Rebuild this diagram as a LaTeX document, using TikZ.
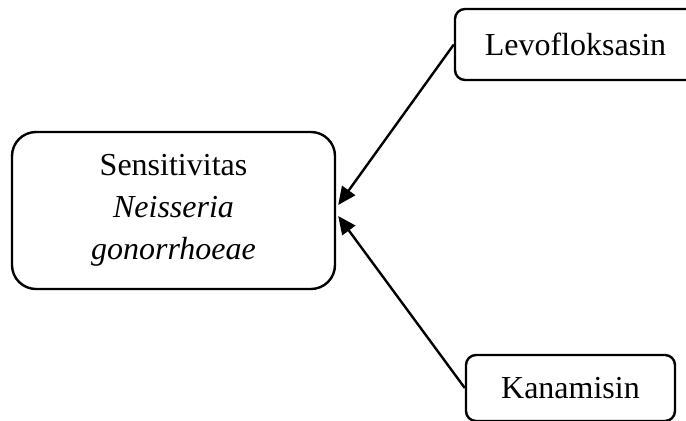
\documentclass[tikz,border=0pt]{standalone}
\usepackage{fontspec}
\setmainfont{Liberation Serif}
\usetikzlibrary{arrows.meta,calc}
\begin{document}
\begin{tikzpicture}[x=0.5pt,y=-0.5pt,
  box/.style={draw,line width=1.2pt,rounded corners=5pt,inner sep=0pt,align=center,
    font=\fontsize{16}{21}\selectfont},
  conn/.style={line width=1.2pt,-{Triangle[length=9pt,width=8pt]}}]
\clip (0,0) rectangle (686,420);
\useasboundingbox (0,0) rectangle (686,420);
\node[box,rounded corners=12pt,minimum width=161.5pt,minimum height=78.5pt] (big) at (173.5,210.5)
  {Sensitivitas\\\textit{Neisseria}\\\textit{gonorrhoeae}};
\node[box,minimum width=120.5pt,minimum height=35.5pt] (levo) at (575.5,44.5) {Levofloksasin};
\node[box,minimum width=104.5pt,minimum height=33pt] (kana) at (570.5,388) {Kanamisin};
\coordinate (t1) at ($(big.east)+(2,-5.5)$);
\coordinate (t2) at ($(big.east)+(2,5.5)$);
\draw[conn] (levo.west) -- (t1);
\draw[conn] (kana.west) -- (t2);
\end{tikzpicture}
\end{document}
